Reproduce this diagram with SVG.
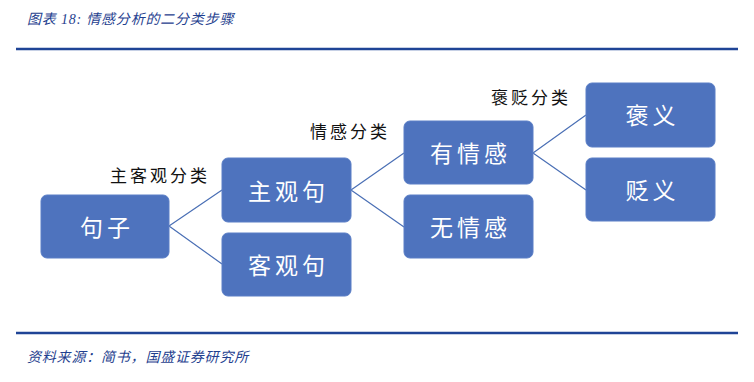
<svg xmlns="http://www.w3.org/2000/svg" width="754" height="382" viewBox="0 0 754 382">
<style>
.hdr{font-family:"Liberation Serif","Noto Sans CJK SC",serif;font-style:italic;font-size:14px;fill:#1f3f8f;letter-spacing:0.8px}
.rule{stroke:#1f4496;stroke-width:2.5}
.box{fill:#4e73be;stroke:#5a7ec6;stroke-width:1}
.bt{font-family:"Noto Sans CJK SC",sans-serif;font-size:23px;fill:#ffffff;text-anchor:middle;dominant-baseline:central;letter-spacing:4px}
.lbl{font-family:"Noto Sans CJK SC",sans-serif;font-size:17px;fill:#111;letter-spacing:3px}
.con{stroke:#4a6fb5;stroke-width:1.2;fill:none}
</style>
<rect width="754" height="382" fill="#ffffff"/>
<text class="hdr" x="27" y="24">图表 18:  情感分析的二分类步骤</text>
<line class="rule" x1="16" y1="49" x2="738" y2="49"/>
<line class="rule" x1="16" y1="333" x2="738" y2="333"/>
<text class="hdr" x="27" y="362">资料来源：简书，国盛证券研究所</text>
<g id="connectors">
<path class="con" d="M169,226 L222,190 M169,226 L222,264"/>
<path class="con" d="M351,190 L404,153 M351,190 L404,227"/>
<path class="con" d="M533,153 L586,115 M533,153 L586,190"/>
</g>
<g id="n-juzi"><rect class="box" x="41" y="195" width="128" height="63" rx="6"/><text class="bt" x="107" y="226">句子</text></g>
<g id="n-zhuguan"><rect class="box" x="222" y="158" width="129" height="64" rx="6"/><text class="bt" x="288.5" y="190">主观句</text></g>
<g id="n-keguan"><rect class="box" x="222" y="233" width="129" height="63" rx="6"/><text class="bt" x="288.5" y="264">客观句</text></g>
<g id="n-youqg"><rect class="box" x="404" y="121" width="129" height="63" rx="6"/><text class="bt" x="470.5" y="152">有情感</text></g>
<g id="n-wuqg"><rect class="box" x="404" y="195" width="129" height="63" rx="6"/><text class="bt" x="470.5" y="226">无情感</text></g>
<g id="n-baoyi"><rect class="box" x="586" y="83" width="129" height="64" rx="6"/><text class="bt" x="652.5" y="114">褒义</text></g>
<g id="n-bianyi"><rect class="box" x="586" y="158" width="129" height="63" rx="6"/><text class="bt" x="652.5" y="189">贬义</text></g>
<g id="labels">
<text class="lbl" x="110" y="182">主客观分类</text>
<text class="lbl" x="310" y="138">情感分类</text>
<text class="lbl" x="491" y="104">褒贬分类</text>
</g>
</svg>
